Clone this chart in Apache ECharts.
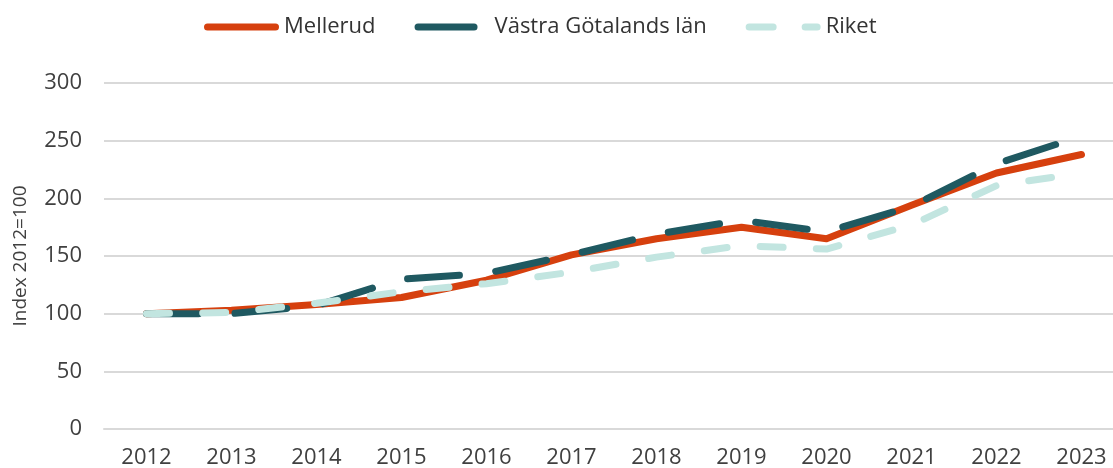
<!DOCTYPE html>
<html>
<head>
<meta charset="utf-8">
<script src="https://cdn.jsdelivr.net/npm/echarts@6/dist/echarts.min.js"></script>
<style>
  html, body { margin: 0; padding: 0; background: #fff; }
  #chart { width: 1113px; height: 468px; }
</style>
</head>
<body>
<div id="chart"></div>
<script>
var years = ['2012', '2013', '2014', '2015', '2016', '2017', '2018', '2019', '2020', '2021', '2022', '2023']
var mellerud = [100, 103, 108, 114, 129, 151, 165, 175, 165, 194, 222, 238]
var vastraGotaland = [100, 100, 107, 130, 135, 151, 169, 181, 171, 193, 230, 254]
var riket = [100, 101, 109, 119, 126, 136, 149, 159, 156, 177, 211, 222]

var font = '"Open Sans", "Noto Sans", sans-serif'
var red = '#d6400e'
var dark = '#1f5961'
var light = '#c2e5e0'

// legend samples, 75x7 with rounded ends
var iconSolid = 'path://M3.5,0H71.5A3.5,3.5,0,0,1,71.5,7H3.5A3.5,3.5,0,0,1,3.5,0Z'
var iconLong = 'path://M3.5,0H59.5A3.5,3.5,0,0,1,59.5,7H3.5A3.5,3.5,0,0,1,3.5,0Z M74.99,3.5h0.01v0.01h-0.01Z'
var iconShort = 'path://M3.5,0H27.5A3.5,3.5,0,0,1,27.5,7H3.5A3.5,3.5,0,0,1,3.5,0Z M59.5,0H71.5A3.5,3.5,0,0,1,71.5,7H59.5A3.5,3.5,0,0,1,59.5,0Z'

var chart = echarts.init(document.getElementById('chart'))

chart.setOption({
  animation: false,
  textStyle: { fontFamily: font },
  legend: {
    left: 204,
    top: 16,
    padding: 0,
    itemWidth: 75,
    itemHeight: 7,
    itemGap: 39,
    textStyle: { fontSize: 22, lineHeight: 22, color: '#333', fontFamily: font },
    data: [
      { name: 'Mellerud', icon: iconSolid, itemStyle: { color: red } },
      { name: 'Västra Götalands län', icon: iconLong, itemStyle: { color: dark } },
      { name: 'Riket', icon: iconShort, itemStyle: { color: light } }
    ]
  },
  // plot runs past the right edge, so the last category is cut like in the original
  grid: { left: 104, width: 1020, top: 83, bottom: 39, outerBoundsMode: 'none' },
  xAxis: {
    type: 'category',
    data: years,
    boundaryGap: true,
    axisLine: { lineStyle: { color: '#d9d9d9', width: 2 } },
    axisTick: { show: false },
    axisLabel: { fontSize: 22, color: '#404040', margin: 18, fontFamily: font }
  },
  yAxis: {
    type: 'value',
    min: 0,
    max: 300,
    interval: 50,
    name: 'Index 2012=100',
    nameLocation: 'middle',
    nameRotate: 90,
    nameGap: 74,
    nameTextStyle: { fontSize: 19, color: '#404040', fontFamily: font },
    axisLine: { show: false },
    axisTick: { show: false },
    axisLabel: { fontSize: 22, color: '#404040', margin: 22, fontFamily: font },
    splitLine: { lineStyle: { color: '#d9d9d9', width: 2 } }
  },
  series: [
    {
      name: 'Mellerud',
      type: 'line',
      data: mellerud,
      symbol: 'none',
      lineStyle: { color: red, width: 7, cap: 'round', join: 'round' },
      itemStyle: { color: red }
    },
    {
      name: 'Västra Götalands län',
      type: 'line',
      data: vastraGotaland,
      symbol: 'none',
      lineStyle: { color: dark, width: 7, type: [52, 36.5], cap: 'round', join: 'round' },
      itemStyle: { color: dark }
    },
    {
      name: 'Riket',
      type: 'line',
      data: riket,
      symbol: 'none',
      lineStyle: { color: light, width: 7, type: [23, 33.2], cap: 'round', join: 'round' },
      itemStyle: { color: light }
    }
  ]
})
</script>
</body>
</html>
